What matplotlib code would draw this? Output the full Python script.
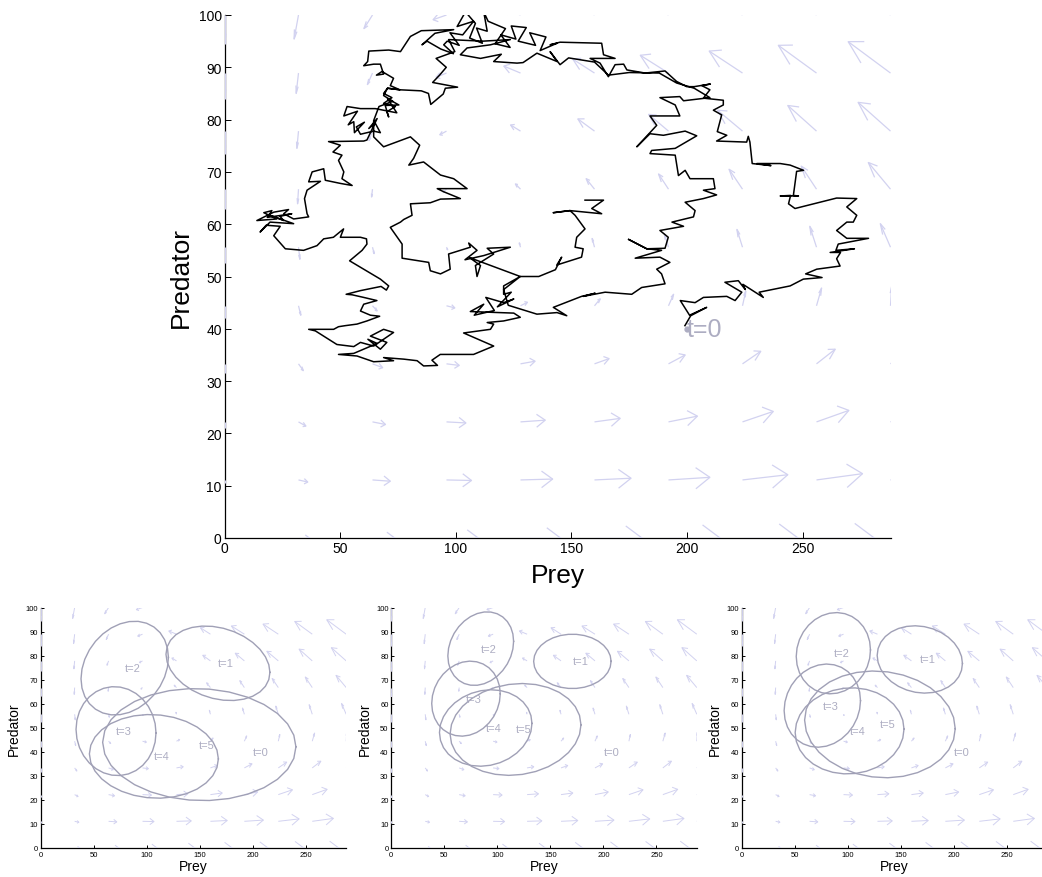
import numpy as np
import matplotlib
matplotlib.use("Agg")
import matplotlib.pyplot as plt

plt.rcParams['font.family'] = ['Liberation Sans', 'DejaVu Sans']

# ---------------- data ----------------
# quiver grid (tail positions) and displayed arrow vectors (data units)
grid_x = [0, 32, 64, 96, 128, 160, 192, 224, 256, 288]
grid_y = [0.0, 11.1, 22.2, 33.3, 44.4, 55.6, 66.7, 77.8, 88.9, 100.0]

# U[row][col], rows follow grid_y
field_u = [
    [0.0, 4.7, 9.6, 13.7, 17.3, 20.5, 22.3, 24.0, 25.0, 25.5],
    [0.0, 4.0, 7.7, 10.8, 13.9, 15.8, 17.9, 19.6, 19.9, 20.0],
    [0.0, 3.2, 5.6, 8.4, 10.7, 11.1, 12.5, 13.3, 14.0, 14.5],
    [0.0, 2.1, 4.4, 5.5, 6.3, 6.3, 7.2, 7.9, 8.1, 8.5],
    [0.0, 1.0, 2.0, 3.6, 3.0, 2.5, 2.2, 1.4, 2.2, 0.5],
    [0.0, 0.6, 0.7, 0.5, -0.5, -1.0, -1.8, -2.4, -2.9, -4.4],
    [0.0, -0.4, -0.4, -1.5, -2.2, -3.6, -4.3, -5.8, -6.6, -9.6],
    [0.0, -0.7, -1.5, -2.9, -4.3, -7.2, -8.6, -10.8, -12.4, -14.0],
    [0.0, -1.0, -2.2, -4.5, -7.2, -9.4, -12.2, -14.4, -16.5, -18.3],
    [0.0, -1.9, -3.7, -5.8, -7.9, -10.5, -14.0, -17.0, -19.0, -21.0],
]
field_v = [
    [0.0, 0.0, 0.0, 0.0, 0.0, 0.0, 0.0, 0.0, 0.0, 0.0],
    [-0.6, -0.4, -0.24, -0.1, 0.17, 0.33, 0.5, 1.0, 1.2, 1.3],
    [-1.2, -0.8, -0.49, -0.2, 0.33, 0.67, 1.1, 2.0, 2.2, 2.4],
    [-1.8, -1.3, -0.73, -0.3, 0.5, 1.0, 1.7, 2.4, 2.8, 3.1],
    [-2.4, -1.8, -0.98, -0.4, 0.67, 1.33, 2.2, 2.8, 3.4, 3.7],
    [-3.1, -2.3, -1.22, -0.5, 0.83, 1.67, 2.6, 3.4, 4.0, 4.5],
    [-3.7, -2.8, -1.5, -0.6, 1.0, 2.0, 2.9, 3.8, 4.4, 5.1],
    [-4.3, -3.3, -1.8, -0.7, 1.17, 2.33, 3.2, 4.0, 4.9, 5.5],
    [-4.9, -3.9, -2.2, -0.8, 1.33, 2.67, 3.4, 4.2, 5.3, 6.0],
    [-5.5, -4.6, -2.6, -0.9, 1.5, 3.0, 3.6, 4.4, 5.6, 6.3],
]

# simulated prey/predator trajectory (main panel)
traj_prey = [
    199.1, 201.6, 208.5, 201.1, 197.1, 203.5, 207.1, 217.2, 220.8, 223.7, 216.4, 222.2, 225.2, 224.2,
    233.0, 231.2, 244.6, 250.3, 258.4, 251.3, 256.1, 266.2, 264.7, 266.4, 261.9, 272.4, 264.4, 265.4,
    278.5, 269.1, 264.7, 269.1, 271.9, 273.4, 269.1, 273.4, 264.7, 246.7, 243.9, 244.8, 240.3, 248.2,
    246.0, 247.4, 250.4, 244.6, 240.3, 230.2, 236.3, 228.2, 227.2, 226.5, 225.8, 212.8, 217.2, 213.1,
    215.0, 211.4, 215.7, 215.7, 207.1, 209.9, 206.4, 210.1, 203.1, 199.9, 195.5, 190.5, 181.9, 174.0,
    172.6, 168.9, 166.0, 162.4, 158.1, 168.9, 163.9, 163.1, 145.1, 140.8,
    143.8, 136.5, 139.0, 132.0, 134.5, 127.0, 130.5, 124.0, 126.0, 119.5, 123.5, 117.0, 121.5, 114.0,
    112.1, 113.6, 109.0, 111.5, 106.0, 108.5, 104.2, 100.6, 107.7, 103.0, 97.5, 101.5, 96.3, 94.8,
    99.0, 93.5, 87.6, 85.4, 91.0, 99.1, 85.1, 80.4, 76.1, 71.0, 62.4, 61.9, 60.2, 64.5, 67.4, 68.8,
    65.7, 68.1, 73.1, 71.7, 75.8, 70.5,
    68.8, 72.4, 68.8, 73.9, 70.2, 71.0, 69.5, 75.4, 70.5, 74.5, 65.2, 58.8, 53.0, 51.6, 57.5, 53.5,
    55.9, 56.2, 60.5, 57.0, 58.8, 64.5, 67.4, 65.2, 62.4, 66.0, 61.6, 60.2, 45.0, 50.1, 46.9, 50.8,
    49.3, 51.6, 50.8, 55.2, 50.1, 43.6, 42.9, 37.9, 36.4, 41.5, 35.7, 34.6, 35.7, 36.4, 29.9, 25.6,
    27.7, 21.3,
    14.0, 22.6, 17.0, 20.5, 18.5, 29.1, 24.0, 25.6, 19.0, 29.9, 19.7, 15.4, 18.0, 24.1, 21.3,
    26.3, 34.2, 40.0, 42.9, 47.1, 51.5, 50.1, 58.8, 61.4, 61.6, 59.5, 54.1, 60.2, 67.4, 71.0, 70.0,
    67.7, 58.8, 52.6, 55.2, 60.2, 65.9, 60.2, 58.8, 63.1, 67.1, 61.6, 57.3, 52.2, 49.3, 47.2, 36.4,
    39.3, 48.6, 55.9, 58.8, 64.5, 73.1, 68.8, 63.1, 70.2, 67.4, 62.0, 66.0, 55.9, 49.3, 57.3, 64.5,
    73.1, 68.8, 77.5, 83.3, 86.1, 92.1, 89.7, 93.3, 107.7, 116.4, 103.4, 115.0, 116.4, 113.6, 120.7,
    127.9, 125.1,
    106.3, 112.1, 108.0, 116.7, 113.0, 120.7, 125.1, 118.0, 124.0, 120.7, 120.7, 127.9, 120.7, 122.7,
    135.1, 143.8, 148.0, 142.2, 154.4, 160.3, 155.1, 164.6, 176.1, 180.4, 190.5, 189.0, 186.9, 192.6,
    188.3, 177.6, 189.0, 182.6, 174.7, 182.6, 190.5, 191.9, 188.3, 198.5, 193.5, 202.8, 203.5, 199.2,
    207.1, 212.8, 207.1, 212.1, 211.4, 201.3, 199.2, 196.3, 194.9, 184.0, 184.7, 194.9, 204.2, 199.2,
    189.8, 184.0, 178.3, 186.9, 184.0, 196.9, 194.9, 188.3, 196.9, 198.5, 209.9,
    203.1, 195.5, 188.0, 175.0, 166.0, 160.0, 148.8, 145.1, 140.8, 143.8, 139.5, 135.1, 129.1, 126.5,
    116.4, 119.7, 110.7, 102.0, 104.9, 115.0, 123.6, 111.7, 96.9, 99.6, 91.5, 95.9, 93.0, 90.0, 100.8,
    95.5, 94.6, 89.2, 88.2, 85.1, 75.8, 70.5, 68.8, 72.8, 66.8, 64.5, 64.5,
    68.8, 80.4, 84.4, 81.8, 79.7, 86.1, 93.4, 99.1, 104.9, 92.0, 94.8, 102.0, 93.4, 89.0, 80.4, 81.1,
    77.5, 76.1, 71.7, 76.8, 76.8, 88.3, 89.0, 93.4, 97.6, 96.9, 106.3, 105.6, 109.2, 104.0, 112.1,
    123.6, 113.6, 116.4, 108.5, 109.2, 110.7, 106.0, 119.3, 127.9, 135.9, 143.1, 145.8, 143.7, 154.4,
    155.1, 151.6, 152.3, 155.9, 151.6, 149.4, 142.2, 149.4, 163.1, 158.8, 163.9, 155.9,
]
traj_pred = [
    40.6, 42.5, 44.1, 42.6, 45.4, 45.0, 46.0, 46.2, 45.4, 47.0, 48.9, 49.2, 47.5, 48.5,
    46.0, 47.0, 48.2, 49.5, 49.8, 50.5, 51.4, 52.0, 53.4, 54.6, 54.6, 55.3, 55.0, 56.2,
    57.3, 57.3, 58.8, 60.4, 60.4, 61.7, 63.3, 64.9, 65.0, 63.0, 63.9, 65.5, 65.4, 65.4,
    65.5, 70.1, 70.3, 71.3, 71.6, 71.6, 71.2, 71.6, 75.7, 76.8, 75.7, 75.9, 77.0, 77.7,
    80.9, 81.8, 82.8, 83.7, 84.1, 85.7, 86.5, 86.8, 86.3, 86.3, 87.3, 89.3, 88.9, 89.5,
    90.6, 90.5, 88.2, 90.8, 91.7, 91.7, 92.4, 94.6, 94.8, 94.3,
    94.6, 93.2, 95.8, 96.6, 94.2, 95.0, 97.6, 97.9, 95.4, 96.2, 93.8, 94.5, 97.4, 98.8,
    100.6, 96.9, 97.5, 94.6, 95.6, 98.4, 100.6, 97.8, 98.8, 96.2, 96.6, 94.2, 95.0, 94.3,
    92.6, 93.5, 95.0, 94.3, 96.5, 97.2, 97.0, 95.9, 93.0, 93.3, 93.1, 91.1, 90.3, 90.6, 90.6, 88.7,
    88.5, 89.2, 87.9, 86.5, 85.7, 86.0,
    85.0, 84.2, 83.1, 82.5, 81.5, 80.5, 82.7, 82.8, 84.0, 81.3, 82.1, 82.1, 82.5, 80.7, 81.6, 79.0,
    79.6, 77.5, 79.5, 78.6, 77.2, 77.8, 77.5, 79.3, 78.3, 80.2, 76.1, 75.9, 75.8, 75.1, 73.8, 73.2,
    72.2, 70.0, 68.7, 67.4, 67.8, 68.4, 70.6, 70.0, 68.1, 68.2, 66.5, 64.9, 62.0, 61.4, 61.0, 62.0,
    62.8, 62.3,
    60.7, 61.0, 62.2, 62.6, 61.3, 62.0, 61.5, 60.7, 61.8, 60.1, 60.4, 58.5, 59.8, 59.6, 57.8,
    55.3, 55.0, 55.9, 57.2, 57.5, 59.1, 57.5, 57.5, 57.2, 56.2, 55.0, 53.0, 51.4, 49.5, 48.2, 47.4,
    48.1, 47.3, 46.6, 46.5, 46.0, 45.4, 44.7, 43.4, 42.6, 42.4, 41.5, 40.9, 40.6, 40.4, 39.9, 39.9,
    39.6, 37.0, 36.6, 37.4, 36.7, 39.3, 39.9, 38.6, 37.4, 36.1, 38.0, 37.2, 35.3, 35.1, 34.8, 33.7,
    33.9, 34.5, 34.2, 33.9, 32.9, 33.0, 34.0, 35.1, 35.1, 36.7, 39.2, 39.9, 40.9, 41.2, 41.5,
    42.2, 43.0,
    43.3, 44.7, 42.6, 43.5, 46.0, 45.0, 45.7, 44.2, 47.0, 46.6, 48.2, 50.0, 47.5, 44.5,
    42.8, 43.1, 42.5, 44.1, 46.2, 46.8, 46.2, 47.0, 46.6, 47.9, 48.6, 50.5, 51.4, 52.7,
    53.7, 53.5, 55.0, 55.3, 57.1, 55.3, 55.4, 57.5, 58.8, 59.6, 60.4, 61.4, 62.6, 64.2,
    64.9, 65.6, 66.5, 66.8, 68.7, 68.7, 70.3, 69.3, 73.2, 73.5, 74.1, 74.5, 76.9, 77.8,
    77.0, 77.3, 74.8, 78.9, 80.7, 80.7, 82.8, 84.2, 84.4, 83.6, 84.2,
    86.0, 87.0, 88.9, 89.0, 88.5, 91.0, 91.8, 90.5, 93.0, 91.1, 91.9, 92.7, 90.9, 90.8,
    91.1, 92.5, 91.7, 92.4, 93.7, 94.3, 95.3, 95.0, 95.3, 93.0, 91.7, 90.0, 88.5, 87.1, 86.2,
    86.0, 84.9, 82.9, 85.0, 85.5, 85.7, 86.0, 84.6, 83.5, 82.5, 79.8, 76.7,
    74.8, 76.7, 75.1, 72.6, 71.3, 71.9, 69.4, 68.7, 66.8, 66.8, 66.2, 64.9, 64.8, 64.1, 63.9, 61.7,
    60.9, 60.4, 59.4, 56.2, 53.5, 52.7, 51.1, 50.5, 51.4, 54.3, 55.6, 56.4, 55.0, 53.2, 54.0,
    55.6, 55.4, 54.3, 52.1, 50.0, 52.1, 53.6, 51.4, 50.0, 50.0, 51.3, 53.7, 52.2, 53.7,
    55.3, 55.6, 57.5, 59.1, 61.7, 62.6, 62.2, 62.6, 62.0, 63.0, 64.6, 64.6,
]

start_point = (200, 40)

# ellipse parameters per lower panel: (centre x, centre y, half-width, half-height, skew)
time_labels = ['t=1', 't=2', 't=3', 't=4', 't=5']
ellipses_a = [(167.1, 76.8, 49.0, 15.5, -0.245), (79.2, 74.8, 41.2, 19.5, 0.23),
              (71.0, 48.6, 37.7, 18.5, -0.04), (106.7, 38.1, 60.8, 17.4, -0.06),
              (149.5, 43.0, 91.1, 23.3, -0.04)]
ellipses_b = [(170.7, 77.6, 36.5, 11.3, 0.0), (84.3, 82.9, 31.0, 15.3, 0.2),
              (70.4, 62.1, 32.3, 15.6, 0.13), (89.0, 49.9, 43.6, 15.9, 0.12),
              (117.1, 49.3, 61.7, 19.1, 0.1)]
ellipses_c = [(167.9, 78.4, 40.2, 14.0, -0.12), (86.4, 81.0, 35.0, 16.9, 0.08),
              (76.0, 59.2, 36.0, 17.3, 0.12), (101.7, 48.7, 51.3, 17.9, 0.04),
              (130.3, 51.4, 71.0, 22.2, -0.08)]

x_ticks = [0, 50, 100, 150, 200, 250]
y_ticks = [0, 10, 20, 30, 40, 50, 60, 70, 80, 90, 100]

# ---------------- style ----------------
ARROW_C = '#d2d2f0'
ELL_C = '#a0a0b6'
LAB_C = '#adadc2'

W, H = 1042, 878
fig = plt.figure(figsize=(W / 100, H / 100), dpi=100)


def px_axes(x0, x1, ytop, ybot):
    return fig.add_axes([x0 / W, 1 - ybot / H, (x1 - x0) / W, (ybot - ytop) / H])


def style_axes(ax, tick_fs, tick_len, lab_fs, xpad, ypad):
    ax.set_xlim(0, 288)
    ax.set_ylim(0, 100)
    ax.set_xticks(x_ticks)
    ax.set_yticks(y_ticks)
    for s in ('top', 'right'):
        ax.spines[s].set_visible(False)
    for s in ('left', 'bottom'):
        ax.spines[s].set_linewidth(0.9)
        ax.spines[s].set_color('black')
    ax.tick_params(direction='in', length=tick_len, width=0.7, labelsize=tick_fs, pad=2)
    ax.set_xlabel('Prey', fontsize=lab_fs, labelpad=xpad)
    ax.set_ylabel('Predator', fontsize=lab_fs, labelpad=ypad)


def draw_field(ax, lw):
    a, b = 0.33, 0.33
    for j, yy in enumerate(grid_y):
        for i, xx in enumerate(grid_x):
            u = field_u[j][i]
            v = field_v[j][i]
            if u == 0 and v == 0:
                continue
            ax.plot([xx, xx + u], [yy, yy + v], color=ARROW_C, lw=lw, zorder=3,
                    solid_capstyle='butt')
            hx = [xx + u - a * (u + b * v), xx + u, xx + u - a * (u - b * v)]
            hy = [yy + v - a * (v - b * u), yy + v, yy + v - a * (v + b * u)]
            ax.plot(hx, hy, color=ARROW_C, lw=lw, zorder=3)


# ---------------- main panel ----------------
ax = px_axes(224.5, 890.5, 16, 539)
draw_field(ax, 0.9)
ax.plot(traj_prey, traj_pred, color='black', lw=1.1, zorder=4)
ax.plot([start_point[0]], [start_point[1]], '.', color=LAB_C, ms=7, zorder=5)
ax.text(start_point[0], start_point[1], 't=0', color=LAB_C, fontsize=18,
        ha='left', va='center', zorder=5)
style_axes(ax, 10, 4, 19, 6, 4)

# ---------------- lower panels ----------------
panel_left = [40.7, 391.3, 741.7]
ellipse_sets = [ellipses_a, ellipses_b, ellipses_c]
tt = np.linspace(0, 2 * np.pi, 31)
for left, ells in zip(panel_left, ellipse_sets):
    bx = px_axes(left, left + 305.5, 608.5, 849)
    draw_field(bx, 0.7)
    for (cx, cy, rx, ry, ph), lab in zip(ells, time_labels):
        bx.plot(cx + rx * np.cos(tt), cy + ry * np.sin(tt + ph), color=ELL_C, lw=1.0, zorder=4)
        bx.text(cx, cy, lab, color=LAB_C, fontsize=8, ha='left', va='center', zorder=5)
    bx.text(start_point[0], start_point[1], 't=0', color=LAB_C, fontsize=8,
            ha='left', va='center', zorder=5)
    style_axes(bx, 5.5, 2.5, 10, 1, 3)

fig.savefig('out.png', dpi=100, facecolor='white')
